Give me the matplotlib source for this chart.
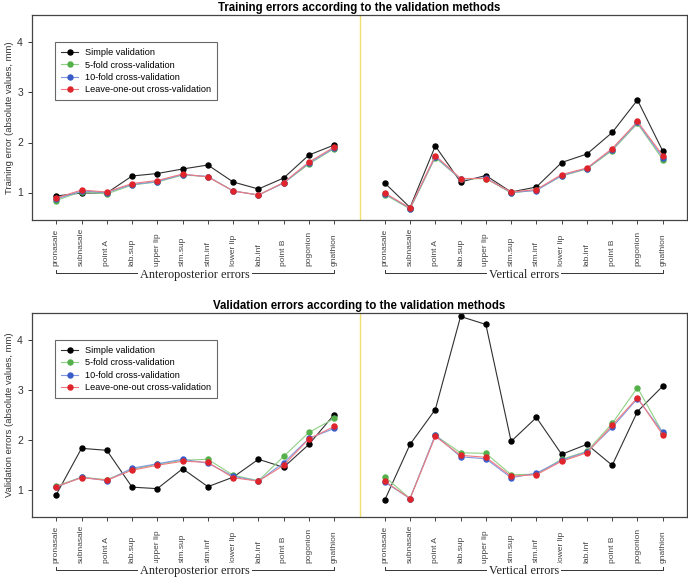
import numpy as np
import matplotlib
matplotlib.use("Agg")
import matplotlib.pyplot as plt
from matplotlib.transforms import blended_transform_factory

plt.rcParams['font.family'] = ['Liberation Sans', 'DejaVu Sans']

landmarks = ["pronasale", "subnasale", "point A", "lab.sup", "upper lip", "stm.sup",
             "stm.inf", "lower lip", "lab.inf", "point B", "pogonion", "gnathion"]
groups = ["Anteroposterior errors", "Vertical errors"]
methods = ["Simple validation", "5-fold cross-validation",
           "10-fold cross-validation", "Leave-one-out cross-validation"]

# training errors: anteroposterior (12) + vertical (12)
train_simple = [0.93, 0.99, 0.99, 1.33, 1.38, 1.47, 1.55, 1.21, 1.07, 1.29, 1.75, 1.95,
                1.19, 0.70, 1.93, 1.21, 1.34, 1.01, 1.11, 1.60, 1.77, 2.20, 2.85, 1.83]
train_5fold = [0.84, 1.02, 0.97, 1.15, 1.21, 1.35, 1.32, 1.03, 0.95, 1.19, 1.57, 1.88,
               0.96, 0.67, 1.70, 1.27, 1.28, 0.99, 1.05, 1.33, 1.47, 1.84, 2.38, 1.66]
train_10fold = [0.87, 1.03, 1.00, 1.16, 1.22, 1.36, 1.32, 1.03, 0.95, 1.19, 1.59, 1.89,
                0.98, 0.68, 1.72, 1.27, 1.29, 1.00, 1.04, 1.34, 1.48, 1.86, 2.40, 1.70]
train_loo = [0.89, 1.05, 1.01, 1.18, 1.24, 1.37, 1.31, 1.03, 0.95, 1.20, 1.61, 1.91,
             0.99, 0.69, 1.74, 1.28, 1.28, 1.01, 1.06, 1.36, 1.49, 1.88, 2.42, 1.74]

# validation errors
val_simple = [0.90, 1.83, 1.79, 1.05, 1.02, 1.42, 1.06, 1.25, 1.61, 1.45, 1.91, 2.51,
              0.79, 1.91, 2.61, 4.48, 4.32, 1.97, 2.45, 1.71, 1.91, 1.49, 2.57, 3.08]
val_5fold = [1.07, 1.25, 1.20, 1.41, 1.51, 1.59, 1.61, 1.29, 1.18, 1.67, 2.15, 2.43,
             1.26, 0.82, 2.09, 1.74, 1.73, 1.30, 1.31, 1.61, 1.77, 2.33, 3.05, 2.14]
val_10fold = [1.05, 1.25, 1.18, 1.43, 1.52, 1.61, 1.53, 1.27, 1.17, 1.54, 2.03, 2.23,
              1.15, 0.82, 2.10, 1.66, 1.62, 1.24, 1.33, 1.59, 1.76, 2.25, 2.83, 2.15]
val_loo = [1.06, 1.24, 1.19, 1.39, 1.49, 1.57, 1.55, 1.24, 1.17, 1.49, 2.02, 2.27,
           1.17, 0.82, 2.07, 1.69, 1.65, 1.27, 1.30, 1.57, 1.74, 2.29, 2.85, 2.10]

solid = ["#000000", "#55b04a", "#3a5cc8", "#e0242c"]
light = ["#303030", "#8fd085", "#7f97e0", "#f07a80"]

xpos = np.r_[np.arange(1, 13), np.arange(14, 26)]

fig = plt.figure(figsize=(6.88, 5.82), dpi=100)
ax1 = fig.add_axes([32/688, 1-220/582, 655/688, 205/582])
ax2 = fig.add_axes([32/688, 1-517/582, 655/688, 204/582])

panels = [
    (ax1, [train_simple, train_5fold, train_10fold, train_loo],
     "Training errors according to the validation methods",
     "Training error (absolute values, mm)"),
    (ax2, [val_simple, val_5fold, val_10fold, val_loo],
     "Validation errors according to the validation methods",
     "Validation errors (absolute values, mm)"),
]

for ax, series, title, ylabel in panels:
    ax.axvline(13, color="#f0e070", lw=1.0, zorder=0)
    for i, vals in enumerate(series):
        for part in (slice(0, 12), slice(12, 24)):
            ax.plot(xpos[part], np.array(vals)[part], color=light[i], lw=0.8,
                    marker="o", ms=3.6, mfc=solid[i], mec=solid[i],
                    label=methods[i] if part.start == 0 else None)
    ax.set_xlim(0.04, 25.96)
    ax.set_ylim(0.45, 4.55)
    ax.set_yticks([1, 2, 3, 4])
    ax.set_xticks(xpos)
    # labels start at a common baseline below the axis (text reads upward)
    ax.set_xticklabels(landmarks * 2, rotation=90, fontsize=6, color="#444444",
                       va="bottom")
    ax.tick_params(axis="y", labelsize=7.5, length=3, width=0.7, colors="#333333")
    ax.tick_params(axis="x", length=3, width=0.7, pad=30, colors="#444444")
    for s in ax.spines.values():
        s.set_color("#444444")
        s.set_linewidth(0.9)
    ax.set_title(title, fontsize=8.3, fontweight="bold", pad=3)
    ax.set_ylabel(ylabel, fontsize=6.8, labelpad=2, color="#333333")
    leg = ax.legend(loc="upper left", bbox_to_anchor=(0.035, 0.868), fontsize=6.6,
                    frameon=True, fancybox=False, edgecolor="#444444",
                    handlelength=1.9, handletextpad=0.7, labelspacing=0.38,
                    borderpad=0.65, borderaxespad=0)
    leg.get_frame().set_linewidth(0.8)

    # group brackets below the tick labels
    tr = blended_transform_factory(ax.transData, ax.transAxes)
    yb = -53 / 205
    for (x0, x1), name in zip([(1, 12), (14, 25)], groups):
        ax.plot([x0, x0, x1, x1], [yb + 0.015, yb, yb, yb + 0.015], color="#333333",
                lw=0.7, transform=tr, clip_on=False)
        ax.text((x0 + x1) / 2, yb - 0.008, name, transform=tr, ha="center", va="center",
                fontsize=8.8, family="Liberation Serif", color="#222222",
                bbox=dict(facecolor="white", edgecolor="none", pad=1.5))

fig.savefig("out.png", dpi=100)
